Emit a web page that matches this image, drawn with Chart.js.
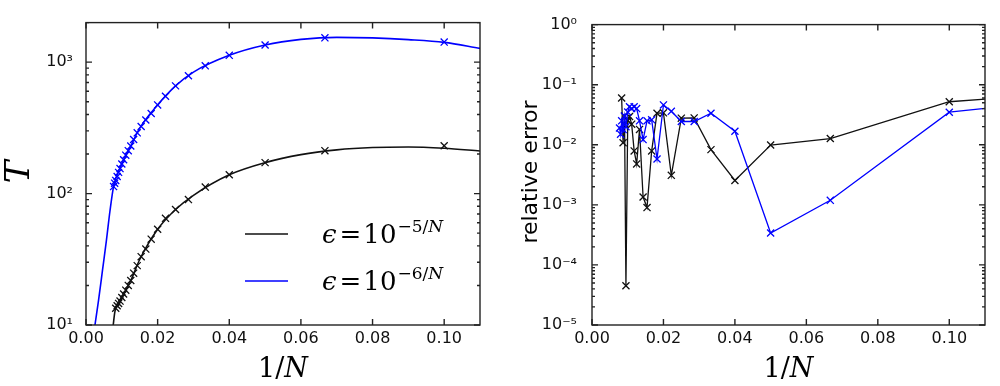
<!DOCTYPE html>
<html>
<head>
<meta charset="utf-8">
<script src="https://cdn.jsdelivr.net/npm/chart.js@4.4.0/dist/chart.umd.min.js"></script>
<style>
body { margin: 0; background: #fff; }
#wrap { position: relative; width: 1000px; height: 386px; }
.box { position: absolute; top: 0; width: 500px; height: 386px; }
</style>
</head>
<body>
<div id="wrap">
  <div class="box" style="left:0"><canvas id="chartT"></canvas></div>
  <div class="box" style="left:500px"><canvas id="chartErr"></canvas></div>
</div>
<script>
// axis ticks
var xTicks = [0, 0.02, 0.04, 0.06, 0.08, 0.10];
var xTickLabels = ['0.00', '0.02', '0.04', '0.06', '0.08', '0.10'];
var tTicks = [10, 100, 1000];
var tTickLabels = ['10¹', '10²', '10³'];
var errTicks = [1e-5, 1e-4, 1e-3, 1e-2, 1e-1, 1];
var errTickLabels = ['10⁻⁵', '10⁻⁴', '10⁻³', '10⁻²', '10⁻¹', '10⁰'];

// legend: eps = 10^(exp)
var legendExp = ['−5/', '−6/'];

// left plot: markers (x = 1/N)
var crossX_5 = [0.1, 0.0667, 0.05, 0.04, 0.0333, 0.0286, 0.025, 0.0222, 0.02, 0.0182, 0.0167, 0.0154, 0.0143, 0.0133, 0.0125, 0.0118, 0.0111, 0.0105, 0.01, 0.0095, 0.0091, 0.0087, 0.0083];
var crossT_5 = [231, 212, 172, 139, 112, 90, 75.7, 64.8, 53.5, 45, 37.8, 33.1, 28.3, 24.8, 21.8, 20.0, 18.4, 17.2, 16.2, 15.2, 14.6, 14.0, 13.4];
var crossX_6 = [0.1, 0.0667, 0.05, 0.04, 0.0333, 0.0286, 0.025, 0.0222, 0.02, 0.0182, 0.0167, 0.0154, 0.0143, 0.0133, 0.0125, 0.0118, 0.0111, 0.0105, 0.01, 0.0095, 0.0091, 0.0087, 0.0083, 0.008, 0.0077];
var crossT_6 = [1422, 1532, 1350, 1127, 938, 788, 660, 550, 473, 407, 363, 324, 290, 258, 230, 212, 196, 181, 168, 155, 145, 135, 126, 120, 113];

// left plot: smooth curves
var curveX_5 = [0.0076, 0.008, 0.0083, 0.01, 0.0125, 0.015, 0.02, 0.025, 0.03, 0.04, 0.05, 0.06, 0.07, 0.08, 0.09, 0.10, 0.11];
var curveT_5 = [10, 12.3, 13.4, 16.2, 21.8, 31.5, 53.5, 75.7, 97, 139, 172, 198, 215, 224, 226, 221, 211];
var curveX_6 = [0.0025, 0.0035, 0.0046, 0.0057, 0.0067, 0.0077, 0.01, 0.0125, 0.015, 0.02, 0.025, 0.03, 0.04, 0.05, 0.06, 0.07, 0.08, 0.09, 0.10, 0.11];
var curveT_6 = [10, 15.4, 26, 44, 74, 113, 168, 230, 315, 473, 660, 840, 1127, 1350, 1490, 1545, 1530, 1485, 1415, 1273];

// right plot: relative error
var errX_5 = [0.1111, 0.1, 0.0667, 0.05, 0.04, 0.0333, 0.0286, 0.025, 0.0222, 0.02, 0.0182, 0.0167, 0.0154, 0.0143, 0.0133, 0.0125, 0.0118, 0.0111, 0.0105, 0.01, 0.0095, 0.0091, 0.0087, 0.0083];
var err_5 = [0.058, 0.052, 0.0127, 0.0099, 0.00254, 0.0083, 0.028, 0.0277, 0.0031, 0.034, 0.0335, 0.0079, 0.0009, 0.00135, 0.018, 0.0048, 0.0079, 0.022, 0.0295, 0.025, 0.000045, 0.03, 0.0108, 0.06];
var errX_6 = [0.1111, 0.1, 0.0667, 0.05, 0.04, 0.0333, 0.0286, 0.025, 0.0222, 0.02, 0.0182, 0.0167, 0.0154, 0.0143, 0.0133, 0.0125, 0.0118, 0.0111, 0.0105, 0.01, 0.0095, 0.0091, 0.0087, 0.0083, 0.008, 0.0077];
var err_6 = [0.041, 0.0348, 0.00119, 0.00034, 0.0168, 0.0335, 0.0244, 0.0244, 0.036, 0.046, 0.0058, 0.026, 0.025, 0.0122, 0.025, 0.04, 0.043, 0.04, 0.043, 0.035, 0.02, 0.03, 0.018, 0.025, 0.015, 0.019];

var BLACK = '#111111';
var BLUE = '#0000ff';
var FRAME = '#222222';
var SERIF = '"DejaVu Serif"';

function pts(xs, ys) {
    return xs.map(function (x, i) { return { x: x, y: ys[i] }; });
}

function runsWidth(ctx, runs) {
    var w = 0;
    runs.forEach(function (r) {
        ctx.font = r.font;
        w += ctx.measureText(r.text).width + (r.dx || 0);
    });
    return w;
}

function drawRuns(ctx, x, y, runs) {
    runs.forEach(function (r) {
        ctx.font = r.font;
        x += (r.dx || 0);
        ctx.fillText(r.text, x, y + (r.dy || 0));
        x += ctx.measureText(r.text).width;
    });
}

// frame + inward ticks on all four sides
function drawFrame(chart) {
    var ctx = chart.ctx, a = chart.chartArea;
    var xs = chart.scales.x, ys = chart.scales.y;
    ctx.save();
    ctx.strokeStyle = FRAME;
    ctx.lineWidth = 1.4;
    ctx.strokeRect(a.left, a.top, a.right - a.left, a.bottom - a.top);
    ctx.beginPath();
    xTicks.forEach(function (v) {
        var px = xs.getPixelForValue(v);
        ctx.moveTo(px, a.bottom); ctx.lineTo(px, a.bottom - 6);
        ctx.moveTo(px, a.top); ctx.lineTo(px, a.top + 6);
    });
    var lo = Math.floor(Math.log10(ys.min)), hi = Math.ceil(Math.log10(ys.max));
    for (var e = lo; e <= hi; e++) {
        for (var m = 1; m <= 9; m++) {
            var v = m * Math.pow(10, e);
            if (v < ys.min * 0.999 || v > ys.max * 1.001) continue;
            var len = m === 1 ? 6 : 3;
            var py = ys.getPixelForValue(v);
            ctx.moveTo(a.left, py); ctx.lineTo(a.left + len, py);
            ctx.moveTo(a.right, py); ctx.lineTo(a.right - len, py);
        }
    }
    ctx.stroke();
    ctx.restore();
}

function drawXTitle(chart) {
    var ctx = chart.ctx, a = chart.chartArea;
    var runs = [
        { text: '1/', font: '27px ' + SERIF },
        { text: 'N', font: 'italic 27px ' + SERIF }
    ];
    ctx.save();
    ctx.fillStyle = '#000';
    ctx.textBaseline = 'alphabetic';
    var w = runsWidth(ctx, runs);
    drawRuns(ctx, (a.left + a.right) / 2 - w / 2, 377, runs);
    ctx.restore();
}

var decorT = {
    id: 'decorT',
    afterDraw: function (chart) {
        var ctx = chart.ctx;
        drawFrame(chart);
        drawXTitle(chart);
        ctx.save();
        // y title
        ctx.fillStyle = '#000';
        ctx.translate(20, 172);
        ctx.rotate(-Math.PI / 2);
        ctx.textAlign = 'center';
        ctx.textBaseline = 'middle';
        ctx.font = 'italic 34px ' + SERIF;
        ctx.fillText('T', 0, 0);
        ctx.restore();

        // legend
        var rows = [{ y: 234, color: BLACK }, { y: 281, color: BLUE }];
        ctx.save();
        rows.forEach(function (r, i) {
            ctx.strokeStyle = r.color;
            ctx.lineWidth = 1.6;
            ctx.beginPath();
            ctx.moveTo(245, r.y); ctx.lineTo(288, r.y);
            ctx.stroke();
            ctx.fillStyle = '#000';
            drawRuns(ctx, 322, r.y + 9, [
                { text: 'ϵ', font: 'italic 26px ' + SERIF },
                { text: '=', font: '26px ' + SERIF, dx: 3 },
                { text: '10', font: '26px ' + SERIF, dx: 2 },
                { text: legendExp[i], font: '17px ' + SERIF, dx: 1, dy: -11 },
                { text: 'N', font: 'italic 17px ' + SERIF, dy: -11 }
            ]);
        });
        ctx.restore();
    }
};

var decorErr = {
    id: 'decorErr',
    afterDraw: function (chart) {
        var ctx = chart.ctx;
        drawFrame(chart);
        drawXTitle(chart);
        ctx.save();
        ctx.fillStyle = '#000';
        ctx.translate(31, 172);
        ctx.rotate(-Math.PI / 2);
        ctx.textAlign = 'center';
        ctx.textBaseline = 'middle';
        ctx.font = '22px "DejaVu Sans"';
        ctx.fillText('relative error', 0, 0);
        ctx.restore();
    }
};

function xScale() {
    return {
        type: 'linear',
        min: 0,
        max: 0.11,
        grid: { display: false, drawTicks: false },
        border: { display: false },
        afterBuildTicks: function (s) { s.ticks = xTicks.map(function (v) { return { value: v }; }); },
        afterFit: function (s) { s.height = 61; },
        ticks: {
            autoSkip: false,
            maxRotation: 0,
            padding: 4,
            color: '#111',
            font: { family: 'DejaVu Sans', size: 16 },
            callback: function (v, i) { return xTickLabels[i]; }
        }
    };
}

function yScale(min, max, ticks, labels, width, pad) {
    return {
        type: 'logarithmic',
        min: min,
        max: max,
        grid: { display: false, drawTicks: false },
        border: { display: false },
        afterBuildTicks: function (s) { s.ticks = ticks.map(function (v) { return { value: v }; }); },
        afterFit: function (s) { s.width = width; },
        ticks: {
            autoSkip: false,
            padding: pad,
            color: '#111',
            font: { family: 'DejaVu Sans', size: 16 },
            callback: function (v, i) { return labels[i]; }
        }
    };
}

var common = {
    responsive: true,
    maintainAspectRatio: false,
    animation: false,
    events: [],
    plugins: { legend: { display: false }, tooltip: { enabled: false } }
};

// T vs 1/N
var chart_T = new Chart(document.getElementById('chartT').getContext('2d'), {
    type: 'line',
    data: {
        datasets: [
            {
                data: pts(curveX_5, curveT_5),
                borderColor: BLACK,
                borderWidth: 1.6,
                pointRadius: 0,
                cubicInterpolationMode: 'monotone'
            },
            {
                data: pts(curveX_6, curveT_6),
                borderColor: BLUE,
                borderWidth: 1.6,
                pointRadius: 0,
                cubicInterpolationMode: 'monotone'
            },
            {
                data: pts(crossX_5, crossT_5),
                showLine: false,
                pointStyle: 'crossRot',
                pointRadius: 5,
                pointBorderWidth: 1.3,
                borderColor: BLACK
            },
            {
                data: pts(crossX_6, crossT_6),
                showLine: false,
                pointStyle: 'crossRot',
                pointRadius: 5,
                pointBorderWidth: 1.3,
                borderColor: BLUE
            }
        ]
    },
    options: Object.assign({}, common, {
        layout: { padding: { top: 20, right: 20, left: 0, bottom: 0 } },
        scales: {
            x: xScale(),
            y: yScale(10, 2000, tTicks, tTickLabels, 86, 13)
        }
    }),
    plugins: [decorT]
});

// relative error vs 1/N
var chart_Err = new Chart(document.getElementById('chartErr').getContext('2d'), {
    type: 'line',
    data: {
        datasets: [
            {
                data: pts(errX_6, err_6),
                borderColor: BLUE,
                borderWidth: 1.3,
                pointStyle: 'crossRot',
                pointRadius: 5,
                pointBorderWidth: 1.3,
                tension: 0
            },
            {
                data: pts(errX_5, err_5),
                borderColor: BLACK,
                borderWidth: 1.3,
                pointStyle: 'crossRot',
                pointRadius: 5,
                pointBorderWidth: 1.3,
                tension: 0
            }
        ]
    },
    options: Object.assign({}, common, {
        layout: { padding: { top: 20, right: 15, left: 0, bottom: 0 } },
        scales: {
            x: xScale(),
            y: yScale(1e-5, 1, errTicks, errTickLabels, 92, 15)
        }
    }),
    plugins: [decorErr]
});
</script>
</body>
</html>
